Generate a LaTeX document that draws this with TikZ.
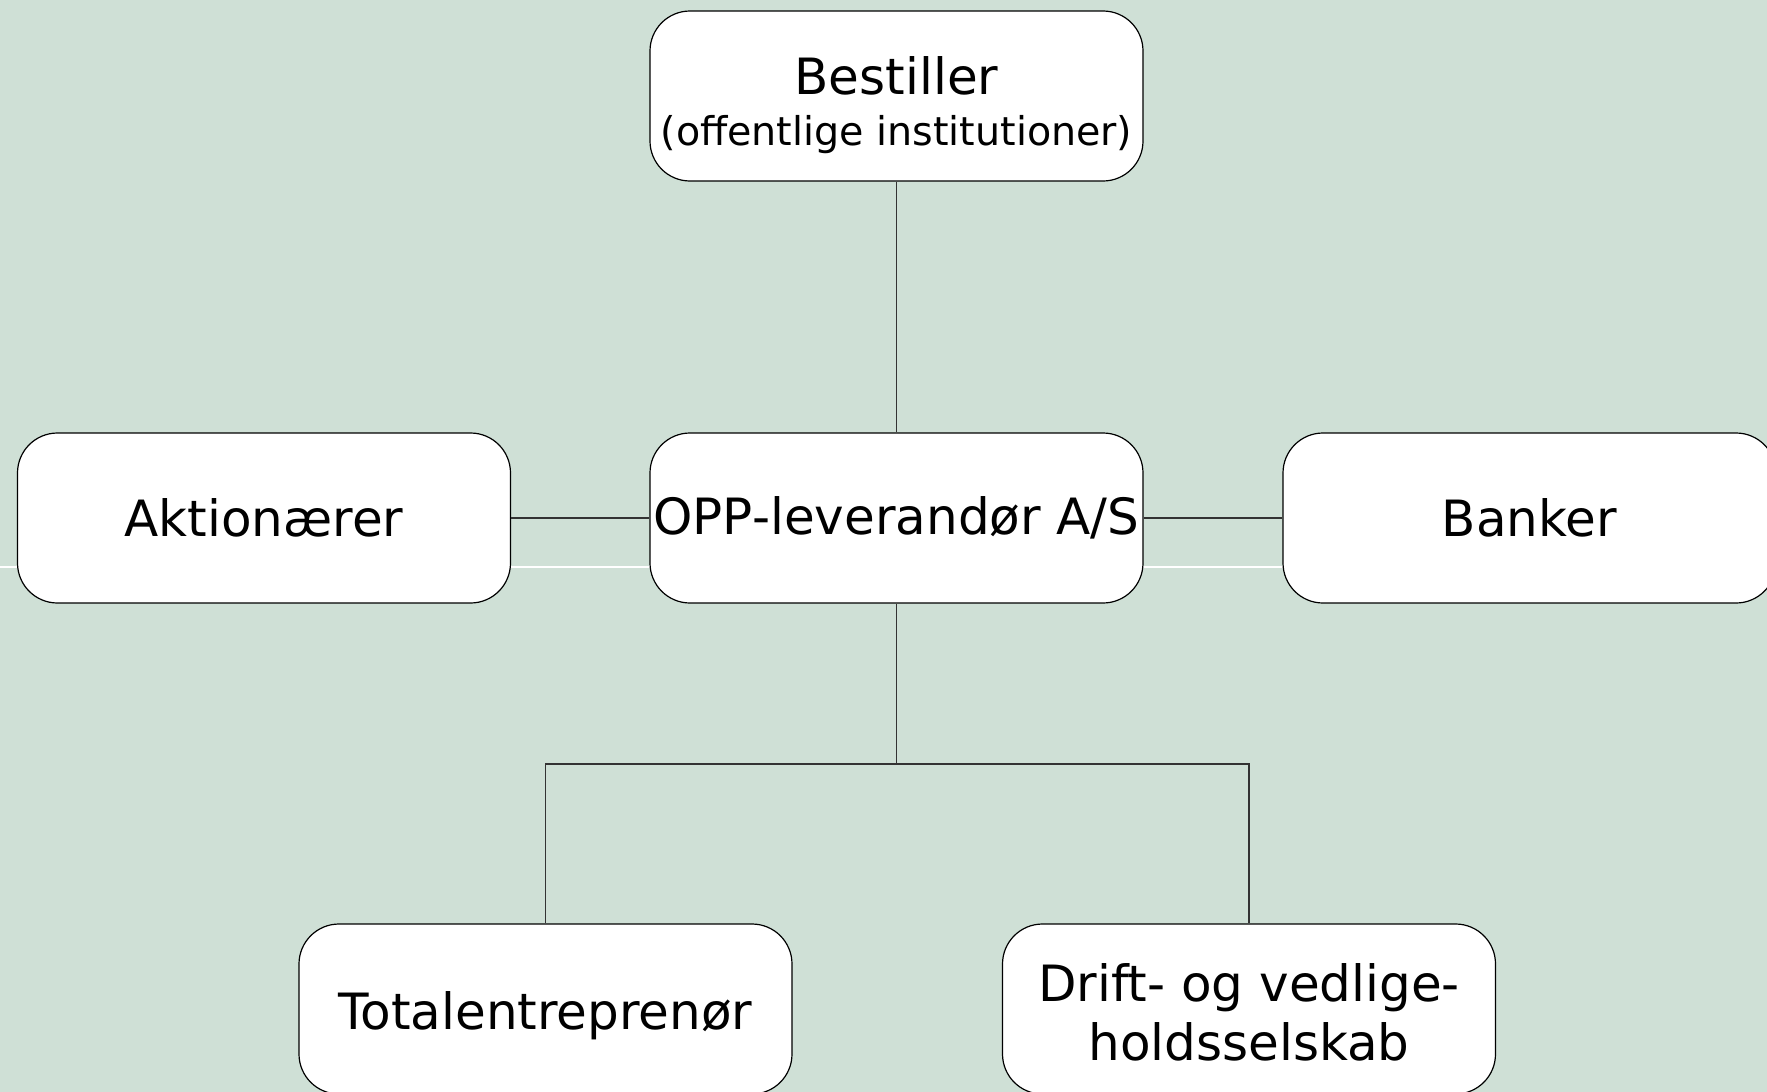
\documentclass[tikz,border=0pt]{standalone}
\usepackage{fontspec}
\setmainfont{DejaVu Sans}
\definecolor{bgc}{HTML}{CFE0D6}
\begin{document}
\begin{tikzpicture}[x=0.5pt,y=-0.5pt,
  orgbox/.style={draw=black, line width=0.6pt, fill=white, rounded corners=20pt,
    rectangle, minimum width=246.5pt, minimum height=85pt, inner sep=0pt},
  lbl/.style={inner sep=0pt, align=center, font=\fontsize{25}{29.5}\selectfont},
  link/.style={draw=black!80, line width=0.6pt}]
\useasboundingbox (0,0) rectangle (1767,1092);
\fill[bgc] (0,0) rectangle (1767,1092);
\clip (0,0) rectangle (1767,1092);
\draw[white, line width=0.6pt] (0,567) -- (1767,567);
\node[orgbox] (best) at (896.5,96) {};
\node[orgbox] (akt) at (264,518) {};
\node[orgbox] (opp) at (896.5,518) {};
\node[orgbox] (bank) at (1529.5,518) {};
\node[orgbox] (tot) at (545.5,1009) {};
\node[orgbox] (drift) at (1249,1009) {};
\node[lbl] (bestt) at ([yshift=-4.5pt]best.center) {Bestiller\\[-4pt]{\fontsize{19.8}{23.5}\selectfont (offentlige institutioner)}};
\node[lbl] (aktt) at (akt.center) {Aktionærer};
\node[lbl] (oppt) at (opp.center) {OPP-leverandør A/S};
\node[lbl] (bankt) at (bank.center) {Banker};
\node[lbl] (tott) at ([yshift=-3.4pt]tot.center) {Totalentreprenør};
\node[lbl] (driftt) at ([yshift=-1.7pt]drift.center) {Drift- og vedlige-\\holdsselskab};
\coordinate (j) at (896.5,764);
\draw[link] (best) -- (opp);
\draw[link] (akt) -- (opp);
\draw[link] (opp) -- (bank);
\draw[link] (opp) -- (j);
\draw[link] (tot.north) |- (j) -| (drift.north);
\end{tikzpicture}
\end{document}
